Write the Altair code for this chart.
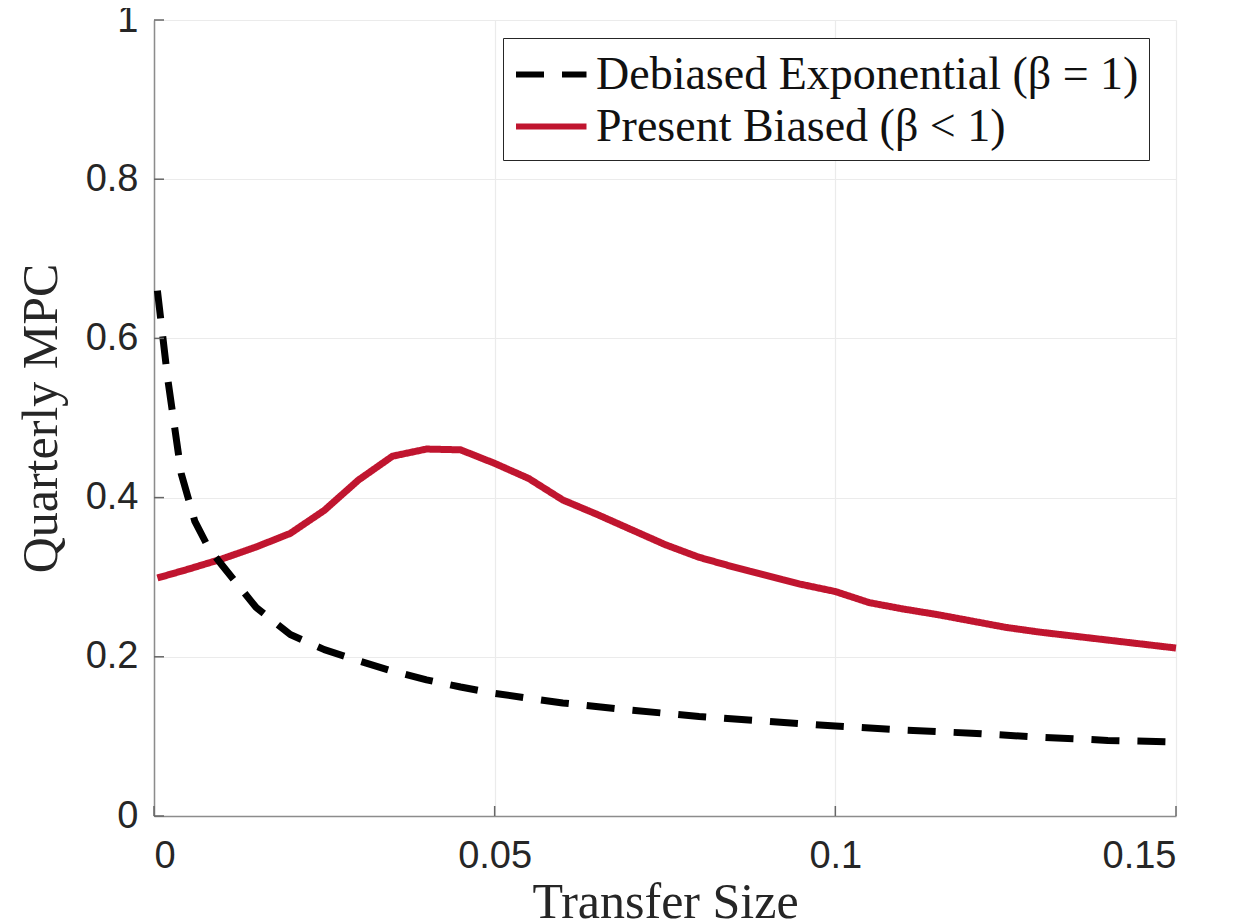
import altair as alt
import pandas as pd

# Debiased exponential (beta = 1)
deb_x = [0.0005, 0.002, 0.004, 0.006, 0.008, 0.01, 0.015, 0.02, 0.025, 0.03, 0.035,
         0.04, 0.045, 0.05, 0.06, 0.07, 0.08, 0.09, 0.1, 0.11, 0.12, 0.13, 0.14, 0.15]
deb_y = [0.66, 0.55, 0.43, 0.37, 0.337, 0.315, 0.262, 0.228, 0.209, 0.195, 0.182,
         0.171, 0.162, 0.154, 0.142, 0.133, 0.125, 0.119, 0.113, 0.108, 0.104, 0.099, 0.095, 0.093]

# Present biased (beta < 1)
pb_x = [0.0005, 0.005, 0.01, 0.015, 0.02, 0.025, 0.03, 0.035, 0.04, 0.045, 0.05, 0.055,
        0.06, 0.065, 0.07, 0.075, 0.08, 0.085, 0.09, 0.095, 0.1, 0.105, 0.11, 0.115,
        0.12, 0.125, 0.13, 0.135, 0.14, 0.145, 0.15]
pb_y = [0.299, 0.31, 0.323, 0.338, 0.355, 0.384, 0.422, 0.452, 0.461, 0.46, 0.443, 0.424,
        0.397, 0.379, 0.36, 0.341, 0.325, 0.313, 0.302, 0.291, 0.282, 0.268, 0.26, 0.253,
        0.245, 0.237, 0.231, 0.226, 0.221, 0.216, 0.211]

series_names = ["Debiased Exponential (β = 1)", "Present Biased (β < 1)"]
series_colors = ["#000000", "#c0152f"]
x_ticks = [0, 0.05, 0.1, 0.15]
y_ticks = [0, 0.2, 0.4, 0.6, 0.8, 1]

df = pd.concat([
    pd.DataFrame({"x": deb_x, "y": deb_y, "series": series_names[0]}),
    pd.DataFrame({"x": pb_x, "y": pb_y, "series": series_names[1]}),
])

W, H = 1022, 796

x_scale = alt.Scale(domain=[0, 0.15], nice=False, zero=False)
y_scale = alt.Scale(domain=[0, 1], nice=False)

color = alt.Color("series:N",
                  scale=alt.Scale(domain=series_names, range=series_colors),
                  legend=alt.Legend(title=None))
dash = alt.StrokeDash("series:N",
                      scale=alt.Scale(domain=series_names, range=[[28, 18], [1, 0]]),
                      legend=alt.Legend(title=None))

x_enc = alt.X("x:Q", scale=x_scale, title="Transfer Size",
              axis=alt.Axis(values=x_ticks, format="~g", grid=True, ticks=False, tickSize=0,
                            labelPadding=21, titlePadding=2))
y_enc = alt.Y("y:Q", scale=y_scale, title="Quarterly MPC",
              axis=alt.Axis(values=y_ticks, format="~g", grid=True, ticks=False, tickSize=0,
                            labelPadding=16, titlePadding=19))

base = alt.Chart(df)
red = base.transform_filter(alt.datum.series == series_names[1]).mark_line(
    strokeWidth=7, strokeCap="butt", strokeJoin="round").encode(
    x=x_enc, y=y_enc, color=color, strokeDash=dash)
black = base.transform_filter(alt.datum.series == series_names[0]).mark_line(
    strokeWidth=7, strokeCap="butt", strokeJoin="round").encode(
    x=x_enc, y=y_enc, color=color, strokeDash=dash)

yt = alt.Chart(pd.DataFrame({"v": y_ticks})).mark_rule(color="#666666", strokeWidth=1.5).encode(
    y=alt.Y("v:Q", scale=y_scale), x=alt.value(0), x2=alt.value(10))
xt = alt.Chart(pd.DataFrame({"v": x_ticks})).mark_rule(color="#666666", strokeWidth=1.5).encode(
    x=alt.X("v:Q", scale=x_scale), y=alt.value(H), y2=alt.value(H - 10))

chart = alt.layer(red, black, yt, xt).properties(
    width=W, height=H,
    autosize=alt.AutoSizeParams(type="none"),
    padding={"left": 146, "top": 12, "right": 50, "bottom": 110},
).configure_view(stroke=None).configure_axis(
    domainColor="#8c8c8c", domainWidth=1.5,
    gridColor="#ebebeb", gridWidth=1.2,
    labelFont="Liberation Sans", labelFontSize=38, labelColor="#262626",
    titleFont="Liberation Serif", titleFontSize=50, titleFontWeight="normal", titleColor="#262626",
).configure_legend(
    orient="none", legendX=349, legendY=18,
    symbolType="M-1,0H2", symbolSize=2209, symbolStrokeWidth=6,
    labelFont="Liberation Serif", labelFontSize=46, labelColor="#111111",
    labelOffset=30, labelLimit=1000,
    padding=10, rowPadding=2,
    strokeColor="#262626", fillColor="white",
)

chart.save("out.html", embed_options={"renderer": "svg", "actions": False})
